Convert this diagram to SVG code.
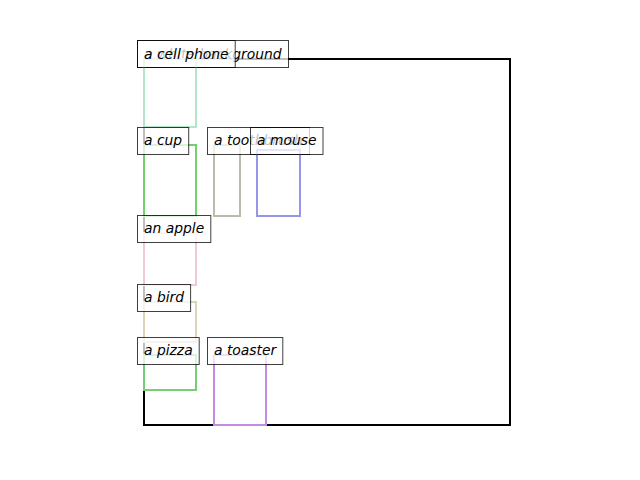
<svg xmlns="http://www.w3.org/2000/svg" width="640" height="480" viewBox="0 0 640 480">
<style>
  .box { fill: none; stroke-width: 2; }
  .lbl rect { fill: #ffffff; stroke: #000000; stroke-width: 1; opacity: 0.75; }
  .lbl text { font-family: "DejaVu Sans", "Liberation Sans", sans-serif; font-style: italic; font-size: 13.89px; fill: #000000; }
</style>
<rect width="640" height="480" fill="#ffffff"/>
<g id="connectors"></g>
<g id="white-background">
  <rect class="box" x="144" y="59" width="366" height="366" stroke="#000000"/>
  <g class="lbl"><rect x="137.5" y="40.5" width="151" height="27"/><text x="144" y="59">a white background</text></g>
</g>
<g id="cell-phone">
  <rect class="box" x="144" y="59" width="52" height="68" stroke="#b2e5c9"/>
  <g class="lbl"><rect x="137.5" y="40.5" width="97.7" height="27"/><text x="144" y="59">a cell phone</text></g>
</g>
<g id="cup">
  <rect class="box" x="144" y="145" width="52" height="71" stroke="#70d26a"/>
  <g class="lbl"><rect x="137.5" y="127.5" width="51.2" height="27"/><text x="144" y="145">a cup</text></g>
</g>
<g id="toothbrush">
  <rect class="box" x="214" y="145" width="26" height="71" stroke="#b9bcaa"/>
  <g class="lbl"><rect x="207.5" y="127.5" width="102" height="27"/><text x="214" y="145">a toothbrush</text></g>
</g>
<g id="mouse">
  <rect class="box" x="257" y="150" width="43" height="66" stroke="#9595ec"/>
  <g class="lbl"><rect x="250.5" y="127.5" width="72.5" height="27"/><text x="257" y="145">a mouse</text></g>
</g>
<g id="apple">
  <rect class="box" x="144" y="233" width="52" height="52" stroke="#f0c8d6"/>
  <g class="lbl"><rect x="137.5" y="215.5" width="73.3" height="27"/><text x="144" y="233">an apple</text></g>
</g>
<g id="bird">
  <rect class="box" x="144" y="302" width="52" height="40" stroke="#ddd4b8"/>
  <g class="lbl"><rect x="137.5" y="284.5" width="53.1" height="27"/><text x="144" y="302">a bird</text></g>
</g>
<g id="pizza">
  <rect class="box" x="144" y="355" width="52" height="35" stroke="#77cc77"/>
  <g class="lbl"><rect x="137.5" y="337.5" width="61.7" height="27"/><text x="144" y="355">a pizza</text></g>
</g>
<g id="toaster">
  <rect class="box" x="214" y="355" width="52" height="70" stroke="#c58ae3"/>
  <g class="lbl"><rect x="207.5" y="337.5" width="75.3" height="27"/><text x="214" y="355">a toaster</text></g>
</g>
</svg>
